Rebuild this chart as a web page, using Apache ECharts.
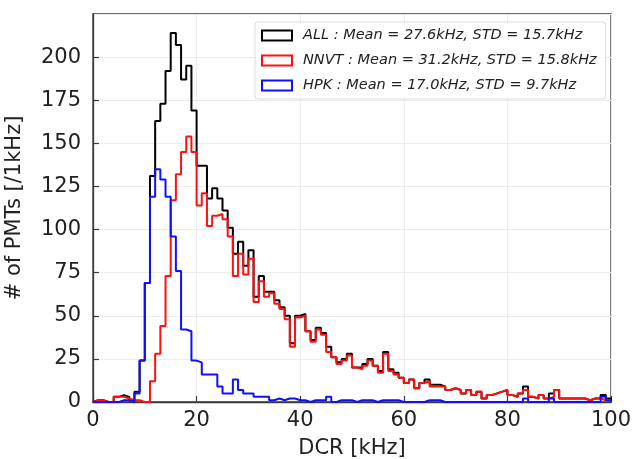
<!DOCTYPE html>
<html>
<head>
<meta charset="utf-8">
<script src="https://cdn.jsdelivr.net/npm/echarts@6/dist/echarts.min.js"></script>
<style>
html,body{margin:0;padding:0;background:#fff;}
#chart{width:634px;height:459px;}
</style>
</head>
<body>
<div id="chart"></div>
<script>
// Histogram bins: 1 kHz wide, from 0 to 100 kHz
const binStart = 0;
const binWidth = 1;

const seriesNames = [
  'ALL : Mean = 27.6kHz, STD = 15.7kHz',
  'NNVT : Mean = 31.2kHz, STD = 15.8kHz',
  'HPK : Mean = 17.0kHz, STD = 9.7kHz'
];
const seriesColors = ['#000000', '#ff1010', '#1010ff'];

// counts per 1 kHz bin (bins 0..99)
const allCounts = [
  1, 1, 0, 0, 3, 4, 3, 1, 6, 24,
  69, 131, 163, 173, 192, 214, 207, 187, 195, 169,
  137, 137, 118, 124, 118, 111, 101, 86, 93, 79,
  88, 61, 73, 64, 64, 59, 55, 50, 34, 50,
  51, 41, 36, 43, 40, 32, 26, 23, 25, 28,
  20, 20, 22, 25, 21, 18, 29, 19, 17, 14,
  11, 13, 8, 11, 13, 10, 10, 9, 7, 8,
  7, 5, 7, 4, 6, 2, 4, 5, 6, 7,
  4, 3, 5, 9, 3, 2, 4, 2, 5, 7,
  2, 2, 2, 2, 2, 1, 2, 2, 4, 2
];
const nnvtCounts = [
  1, 1, 0, 0, 3, 3, 2, 1, 1, 0,
  0, 12, 28, 44, 73, 117, 132, 145, 154, 145,
  114, 121, 102, 108, 109, 106, 96, 73, 86, 74,
  83, 58, 70, 61, 63, 57, 54, 48, 32, 49,
  50, 41, 35, 42, 39, 29, 26, 22, 24, 27,
  20, 19, 21, 24, 21, 17, 28, 18, 16, 14,
  11, 13, 8, 11, 12, 9, 9, 9, 7, 8,
  7, 5, 7, 4, 6, 2, 4, 5, 6, 7,
  4, 3, 5, 7, 3, 2, 4, 2, 3, 7,
  2, 2, 2, 2, 2, 1, 2, 2, 1, 1
];
const hpkCounts = [
  0, 0, 0, 0, 0, 1, 1, 0, 5, 24,
  69, 119, 135, 129, 119, 96, 76, 42, 41, 24,
  23, 16, 16, 16, 9, 5, 5, 13, 7, 5,
  5, 3, 3, 3, 1, 2, 1, 2, 2, 1,
  1, 0, 1, 1, 1, 3, 0, 1, 1, 1,
  0, 1, 1, 1, 0, 1, 1, 1, 1, 0,
  0, 0, 0, 0, 1, 1, 1, 0, 0, 0,
  0, 0, 0, 0, 0, 0, 0, 0, 0, 0,
  0, 0, 0, 2, 0, 0, 0, 0, 2, 0,
  0, 0, 0, 0, 0, 0, 0, 0, 3, 1
];

const xTicks = [0, 20, 40, 60, 80, 100];
const yTicks = [0, 25, 50, 75, 100, 125, 150, 175, 200];

// build step outline (matplotlib histtype='step')
function stepData(counts) {
  const pts = [[binStart, 0]];
  for (let i = 0; i < counts.length; i++) {
    pts.push([binStart + i * binWidth, counts[i]]);
  }
  const endEdge = binStart + counts.length * binWidth;
  pts.push([endEdge, counts[counts.length - 1]]);
  pts.push([endEdge, 0]);
  return pts;
}

const countsList = [allCounts, nnvtCounts, hpkCounts];
const font = 'DejaVu Sans';

const chart = echarts.init(document.getElementById('chart'), null, {renderer: 'canvas'});
chart.setOption({
  backgroundColor: '#ffffff',
  animation: false,
  grid: {
    left: 93, right: 23, top: 14, bottom: 57,
    show: true, borderColor: '#3a3a3a', borderWidth: 1.3,
    containLabel: false,
    outerBoundsMode: 'none'
  },
  legend: {
    orient: 'vertical',
    left: 255, top: 22,
    padding: [5, 9, 5, 6],
    itemWidth: 30, itemHeight: 10,
    itemGap: 8,
    backgroundColor: 'rgba(255,255,255,0.85)',
    borderColor: '#dcdcdc', borderWidth: 1, borderRadius: 3,
    textStyle: {fontFamily: font, fontStyle: 'italic', fontSize: 14.5, color: '#222', padding: [0, 0, 0, 6], lineHeight: 17},
    data: seriesNames.map((n, i) => ({
      name: n, icon: 'rect',
      itemStyle: {color: 'rgba(0,0,0,0)', borderColor: seriesColors[i], borderWidth: 2}
    }))
  },
  xAxis: {
    type: 'value',
    min: xTicks[0], max: xTicks[xTicks.length - 1], interval: 20,
    name: 'DCR [kHz]', nameLocation: 'middle', nameGap: 36,
    nameTextStyle: {fontFamily: font, fontSize: 21, color: '#222'},
    axisLine: {show: true, lineStyle: {color: '#3a3a3a', width: 1.3}},
    axisTick: {show: true, inside: true, length: 6, lineStyle: {color: '#3a3a3a', width: 1.2}},
    axisLabel: {fontFamily: font, fontSize: 21, color: '#222', margin: 8},
    splitLine: {show: true, lineStyle: {color: '#ececec', width: 1}}
  },
  yAxis: {
    type: 'value',
    min: yTicks[0], max: 225, interval: 25,
    name: '# of PMTs [/1kHz]', nameLocation: 'middle', nameGap: 68,
    nameTextStyle: {fontFamily: font, fontSize: 21, color: '#222'},
    axisLine: {show: true, lineStyle: {color: '#3a3a3a', width: 1.3}},
    axisTick: {show: true, inside: true, length: 6, lineStyle: {color: '#3a3a3a', width: 1.2}},
    axisLabel: {fontFamily: font, fontSize: 21, color: '#222', margin: 12, showMaxLabel: false},
    splitLine: {show: true, lineStyle: {color: '#ececec', width: 1}}
  },
  series: countsList.map((c, i) => ({
    name: seriesNames[i],
    type: 'line',
    step: 'end',
    data: stepData(c),
    showSymbol: false,
    symbol: 'none',
    lineStyle: {color: seriesColors[i], width: 2},
    itemStyle: {color: seriesColors[i]},
    z: 2 + i
  }))
});
</script>
</body>
</html>
